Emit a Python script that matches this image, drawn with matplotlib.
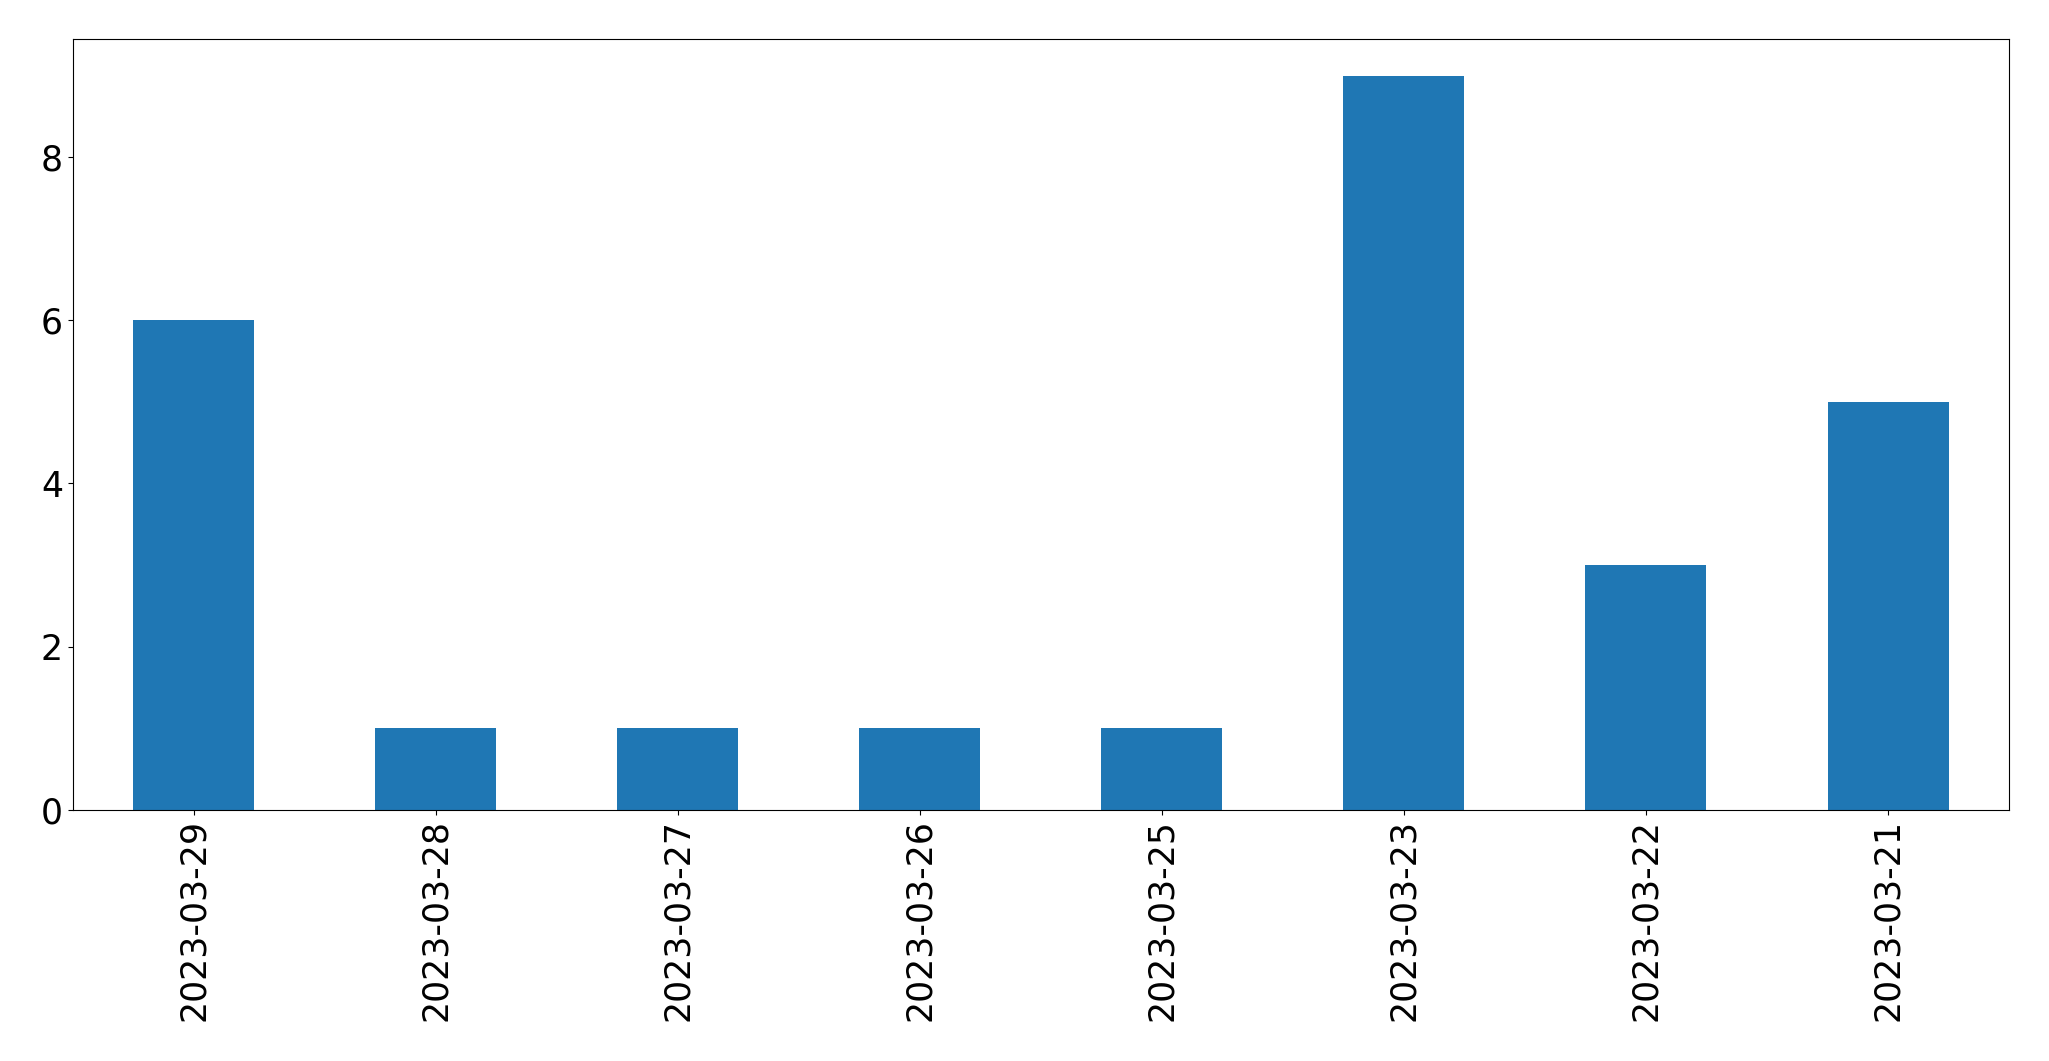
import matplotlib
matplotlib.use("Agg")
import matplotlib.pyplot as plt
import pandas as pd

dates = ["2023-03-29", "2023-03-28", "2023-03-27", "2023-03-26",
         "2023-03-25", "2023-03-23", "2023-03-22", "2023-03-21"]
counts = [6, 1, 1, 1, 1, 9, 3, 5]

fig, ax = plt.subplots(figsize=(20.49, 10.61), dpi=100)
s = pd.Series(counts, index=dates)
s.plot(kind='bar', ax=ax, color='#1f77b4')
ax.tick_params(labelsize=25)
fig.subplots_adjust(left=0.0355, right=0.9805, top=0.963, bottom=0.237)
fig.savefig("out.png", dpi=100)
